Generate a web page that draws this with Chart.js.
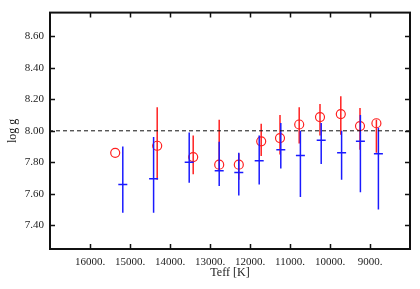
<!DOCTYPE html>
<html>
<head>
<meta charset="utf-8">
<script src="https://cdn.jsdelivr.net/npm/chart.js@4/dist/chart.umd.min.js"></script>
<style>
  html, body { margin: 0; padding: 0; background: #fff; }
</style>
</head>
<body>
<canvas id="c" width="420" height="289"></canvas>
<script>
// ── Data ──────────────────────────────────────
const redTeff = [15370, 14320, 13420, 12770, 12280, 11720, 11250, 10770, 10250, 9730, 9250, 8840];
const redLogg = [7.86, 7.905, 7.833, 7.785, 7.785, 7.933, 7.954, 8.04, 8.087, 8.106, 8.03, 8.048];
const redLo   = [7.86, 7.69, 7.725, 7.75, 7.69, 7.84, 7.85, 7.92, 7.97, 7.975, 7.88, 7.86];
const redHi   = [7.86, 8.15, 7.97, 8.07, 7.856, 8.045, 8.10, 8.15, 8.17, 8.22, 8.145, 8.07];

const blueTeff = [15180, 14410, 13520, 12770, 12280, 11770, 11230, 10740, 10220, 9710, 9240, 8790];
const blueLogg = [7.66, 7.695, 7.80, 7.746, 7.735, 7.81, 7.88, 7.844, 7.94, 7.86, 7.933, 7.854];
const blueLo   = [7.48, 7.48, 7.67, 7.65, 7.59, 7.66, 7.76, 7.58, 7.79, 7.69, 7.61, 7.50];
const blueHi   = [7.90, 7.96, 7.99, 7.93, 7.86, 7.97, 8.05, 8.00, 8.05, 8.00, 8.10, 8.02];

const refLogg = 8.00;
const xRange = [8000, 17000];
const yRange = [7.25, 8.75];
const xTicks = [16000, 15000, 14000, 13000, 12000, 11000, 10000, 9000];
const yTicks = [7.40, 7.60, 7.80, 8.00, 8.20, 8.40, 8.60];

const RED = '#ff2020';
const BLUE = '#1a1aff';
const FONT = "'Liberation Serif', 'DejaVu Serif', serif";

// ── Error bars as broken line segments ────────
function errSegments(xs, lo, hi) {
  const out = [];
  xs.forEach((x, i) => {
    out.push({ x: x, y: lo[i] }, { x: x, y: hi[i] }, { x: NaN, y: NaN });
  });
  return out;
}
function pts(xs, ys) { return xs.map((x, i) => ({ x: x, y: ys[i] })); }

// ── Frame + inward ticks on all four sides ────
const frame = {
  id: 'frame',
  afterDatasetsDraw(ch) {
    const { ctx, chartArea: a, scales } = ch;
    ctx.save();
    ctx.strokeStyle = '#111';
    ctx.lineWidth = 1.5;
    ctx.beginPath();
    xTicks.forEach(v => {
      const px = Math.round(scales.x.getPixelForValue(v)) + 0.5;
      ctx.moveTo(px, a.bottom); ctx.lineTo(px, a.bottom - 5);
      ctx.moveTo(px, a.top); ctx.lineTo(px, a.top + 5);
    });
    yTicks.forEach(v => {
      const py = Math.round(scales.y.getPixelForValue(v)) + 0.5;
      ctx.moveTo(a.left, py); ctx.lineTo(a.left + 5, py);
      ctx.moveTo(a.right, py); ctx.lineTo(a.right - 5, py);
    });
    ctx.stroke();
    ctx.lineWidth = 2;
    ctx.strokeRect(a.left, a.top, a.right - a.left, a.bottom - a.top);
    ctx.restore();
  }
};

new Chart(document.getElementById('c'), {
  type: 'scatter',
  data: {
    datasets: [
      {
        label: 'ref',
        data: [{ x: xRange[0], y: refLogg }, { x: xRange[1], y: refLogg }],
        showLine: true, borderColor: '#111', borderWidth: 1, borderDash: [4, 3],
        pointRadius: 0
      },
      {
        label: 'blue err',
        data: errSegments(blueTeff, blueLo, blueHi),
        showLine: true, spanGaps: false, borderColor: BLUE, borderWidth: 1.5,
        pointRadius: 0
      },
      {
        label: 'blue',
        data: pts(blueTeff, blueLogg),
        pointStyle: 'line', pointRadius: 4.5, borderColor: BLUE, borderWidth: 1.5
      },
      {
        label: 'red err',
        data: errSegments(redTeff, redLo, redHi),
        showLine: true, spanGaps: false, borderColor: RED, borderWidth: 1.5,
        pointRadius: 0
      },
      {
        label: 'red',
        data: pts(redTeff, redLogg),
        pointStyle: 'circle', pointRadius: 4.5, borderColor: RED,
        backgroundColor: 'rgba(0,0,0,0)', borderWidth: 1.2
      }
    ]
  },
  options: {
    responsive: false,
    animation: false,
    events: [],
    layout: { padding: { top: 10, right: 10, left: 0, bottom: 0 } },
    plugins: { legend: { display: false }, tooltip: { enabled: false } },
    scales: {
      x: {
        type: 'linear', reverse: true, min: xRange[0], max: xRange[1],
        afterBuildTicks: s => { s.ticks = xTicks.map(v => ({ value: v })); },
        afterFit: s => { s.height = 40; },
        grid: { display: false, drawTicks: false },
        border: { display: false },
        ticks: {
          color: '#222', padding: 7, maxRotation: 0, autoSkip: false,
          font: { family: FONT, size: 11 },
          callback: v => v + '.'
        },
        title: {
          display: true, text: 'Teff [K]', color: '#222',
          font: { family: FONT, size: 12 }, padding: { top: 0, bottom: 9 }
        }
      },
      y: {
        type: 'linear', min: yRange[0], max: yRange[1],
        afterBuildTicks: s => { s.ticks = yTicks.map(v => ({ value: v })); },
        afterFit: s => { s.width = 50; },
        grid: { display: false, drawTicks: false },
        border: { display: false },
        ticks: {
          color: '#222', padding: 6, autoSkip: false,
          font: { family: FONT, size: 11 },
          callback: v => v.toFixed(2)
        },
        title: {
          display: true, text: 'log g', color: '#222',
          font: { family: FONT, size: 12 }, padding: { top: 6, bottom: 4 }
        }
      }
    }
  },
  plugins: [frame]
});
</script>
</body>
</html>
